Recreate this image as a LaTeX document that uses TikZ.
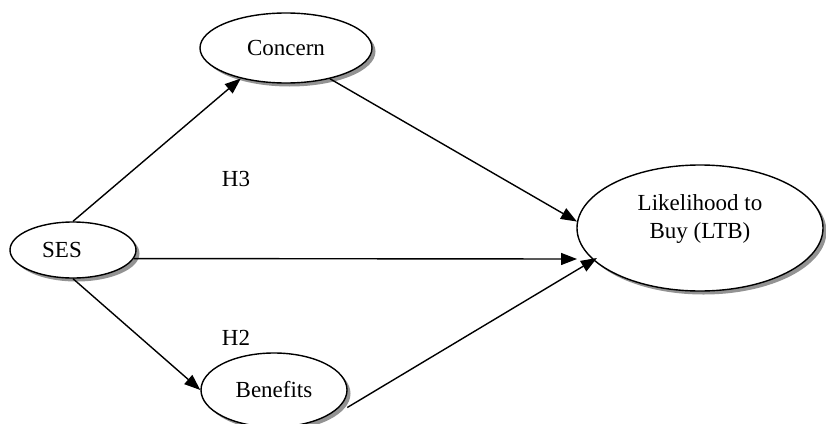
\documentclass[tikz,border=0pt]{standalone}
\usepackage{fontspec}
\setmainfont{Liberation Serif}
\usetikzlibrary{shapes.geometric,shadows,arrows.meta}
\tikzset{
  construct/.style={ellipse, draw=black, line width=1.4pt, fill=white, inner sep=0pt,
    drop shadow={shadow xshift=3.5pt, shadow yshift=-3.5pt, fill=gray!85, opacity=1},
    font=\fontsize{23}{27}\selectfont},
  path/.style={draw=black, line width=1.4pt, -{Triangle[length=16pt,width=12pt]}},
  hyp/.style={font=\fontsize{23}{27}\selectfont, inner sep=0pt}
}
\begin{document}
\begin{tikzpicture}[x=1pt,y=-1pt]
\useasboundingbox (0,0) rectangle (826,423);
\node[construct, minimum width=172pt, minimum height=70pt] (Concern) at (286,48) {Concern};
\node[construct, minimum width=126pt, minimum height=56pt,
  label={[font=\fontsize{23}{27}\selectfont, xshift=-11pt]center:SES}] (SES) at (73,250) {};
\node[construct, minimum width=146pt, minimum height=74pt] (Benefits) at (274,390) {Benefits};
\node[construct, minimum width=246pt, minimum height=126pt,
  label={[align=center, font=\fontsize{23}{28}\selectfont, yshift=9pt]center:Likelihood to\\Buy (LTB)}] (LTB) at (700,228) {};
\coordinate (sesend) at (577,259);
\node[hyp] (H3) at (236,179) {H3};
\node[hyp] (H2) at (236,338) {H2};
\draw[path] (SES.north) -- (Concern.214);
\draw[path] (Concern.325) -- (LTB.177);
\draw[path] (SES.-8) -- (sesend);
\draw[path] (SES.south) -- (Benefits.west);
\draw[path] ([xshift=8pt]Benefits.-15) -- ([shift={(5,-1)}]LTB.196);
\end{tikzpicture}
\end{document}
